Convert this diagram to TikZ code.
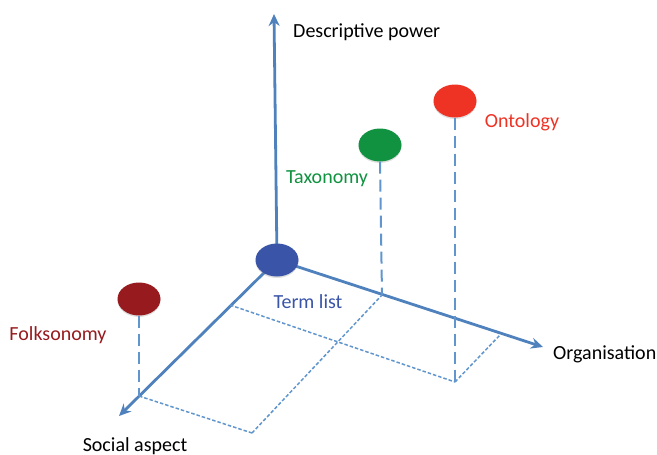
\documentclass[tikz,border=0pt]{standalone}
\usepackage{fontspec}
\setmainfont{Carlito}
\usetikzlibrary{arrows.meta,shadows,shapes.geometric}
\definecolor{axisblue}{RGB}{79,129,189}
\definecolor{dashblue}{RGB}{96,150,205}
\definecolor{termblue}{RGB}{58,84,168}
\definecolor{taxgreen}{RGB}{16,146,64}
\definecolor{ontred}{RGB}{238,50,36}
\definecolor{folkred}{RGB}{150,26,30}
\tikzset{
  axis/.style={draw=axisblue, line width=2.8pt, -{Stealth[length=12pt,width=11pt]}},
  drop/.style={draw=dashblue, line width=2pt, dash pattern=on 12pt off 6pt},
  floor/.style={draw=dashblue, line width=1.5pt, dash pattern=on 3.5pt off 2pt},
  blob/.style={ellipse, minimum width=43pt, minimum height=33pt, inner sep=0pt,
    draw=none, drop shadow={shadow xshift=0pt, shadow yshift=-1.5pt, opacity=0.25}},
  lbl/.style={font=\fontsize{20}{24}\selectfont, inner sep=0pt},
}
\begin{document}
\begin{tikzpicture}[x=1pt,y=-1pt]
\useasboundingbox (0,0) rectangle (657,455);
% origin and axis tips
\coordinate (O) at (277,260);
\coordinate (up) at (274,14);
\coordinate (org) at (543,347);
\coordinate (soc) at (119,416);
% points on the floor grid
\coordinate (Sf) at (139,396);
\coordinate (S1) at (230,305);
\coordinate (O1) at (382,295);
\coordinate (O2) at (500,335);
\coordinate (P1) at (252,433);
\coordinate (P2) at (455,382);
% axes
\draw[axis] (O) -- (up);
\draw[axis] (O) -- (org);
\draw[axis] (O) -- (soc);
% classification points
\node[blob, fill=termblue] (term) at (O) {};
\node[blob, fill=taxgreen] (tax) at (380,145) {};
\node[blob, fill=ontred] (ont) at (455,101) {};
\node[blob, fill=folkred] (folk) at (139,299) {};
% projection guides
\draw[drop] (folk.south) -- (Sf);
\draw[drop] (tax.south) -- (O1);
\draw[drop] (ont.south) -- (P2);
\draw[floor] (Sf) -- (P1);
\draw[floor] (P1) -- (O1);
\draw[floor] (S1) -- (P2);
\draw[floor] (P2) -- (O2);
% labels
\node[lbl, anchor=west] (ldesc) at (293,32) {Descriptive power};
\node[lbl, text=taxgreen] (ltax) at (327,179) {Taxonomy};
\node[lbl, text=ontred] (lont) at (522,122) {Ontology};
\node[lbl, text=termblue] (lterm) at (308,302) {Term list};
\node[lbl, text=folkred] (lfolk) at (58,335) {Folksonomy};
\node[lbl, anchor=west] (lorg) at (553,354) {Organisation};
\node[lbl] (lsoc) at (135,446) {Social aspect};
\end{tikzpicture}
\end{document}
